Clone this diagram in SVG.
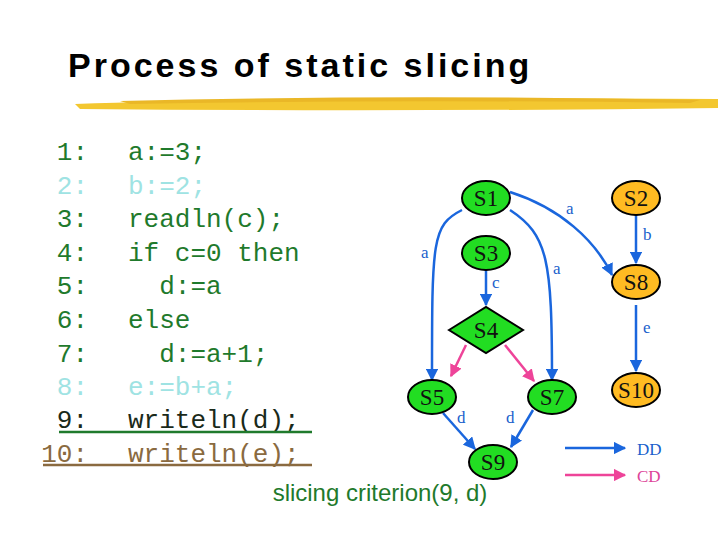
<svg xmlns="http://www.w3.org/2000/svg" width="720" height="540" viewBox="0 0 720 540">
<style>
.code{font-family:"Liberation Mono",monospace;font-size:26px}
.g{fill:#1f7a2c}.c{fill:#9fe3e3}.k{fill:#1a2a1a}.b{fill:#8a6a40}
.gn{fill:#22dd22;stroke:#000;stroke-width:2}
.or{fill:#ffbb22;stroke:#000;stroke-width:2}
.nl{font-family:"Liberation Serif",serif;font-size:23px;fill:#111;text-anchor:middle}
.el{font-family:"Liberation Serif",serif;font-size:17px;fill:#1a5fcc}
.dd{fill:none;stroke:#1a66dd;stroke-width:2.5;marker-end:url(#ab)}
.cd{fill:none;stroke:#ee4499;stroke-width:2.5;marker-end:url(#ap)}
</style>
<defs>
<marker id="ab" viewBox="0 0 10 10" refX="9" refY="5" markerWidth="5" markerHeight="5" orient="auto"><path d="M0,0L10,5L0,10z" fill="#1a66dd"/></marker>
<marker id="ap" viewBox="0 0 10 10" refX="9" refY="5" markerWidth="5" markerHeight="5" orient="auto"><path d="M0,0L10,5L0,10z" fill="#ee4499"/></marker>
</defs>
<rect width="720" height="540" fill="#fff"/>
<text x="68" y="77" font-family="Liberation Sans,Arial,sans-serif" font-weight="bold" font-size="34" letter-spacing="3" fill="#000">Process of static slicing</text>
<g id="brush" fill="#f2c21a" opacity="0.9">
<path d="M75,104 Q300,96 718,99 L718,108 Q400,112 80,109 Z"/>
<path d="M120,101 Q400,94 700,100 L690,103 Q400,99 130,104 Z" fill="#e8b010"/>
</g>
<g id="code" class="code">
<text x="88" y="160" text-anchor="end" class="g">1:</text><text x="128" y="160" class="g">a:=3;</text>
<text x="88" y="194" text-anchor="end" class="c">2:</text><text x="128" y="194" class="c">b:=2;</text>
<text x="88" y="227" text-anchor="end" class="g">3:</text><text x="128" y="227" class="g">readln(c);</text>
<text x="88" y="261" text-anchor="end" class="g">4:</text><text x="128" y="261" class="g">if c=0 then</text>
<text x="88" y="294" text-anchor="end" class="g">5:</text><text x="128" y="294" class="g" xml:space="preserve">  d:=a</text>
<text x="88" y="328" text-anchor="end" class="g">6:</text><text x="128" y="328" class="g">else</text>
<text x="88" y="362" text-anchor="end" class="g">7:</text><text x="128" y="362" class="g" xml:space="preserve">  d:=a+1;</text>
<text x="88" y="395" text-anchor="end" class="c">8:</text><text x="128" y="395" class="c">e:=b+a;</text>
<text x="88" y="428" text-anchor="end" class="k">9:</text><text x="128" y="428" class="k">writeln(d);</text>
<text x="88" y="462" text-anchor="end" class="b">10:</text><text x="128" y="462" class="b">writeln(e);</text>
<line x1="59" y1="432" x2="312" y2="432" stroke="#1f7a2c" stroke-width="2.5"/>
<line x1="43" y1="465" x2="312" y2="465" stroke="#8a6a40" stroke-width="2.5"/>
</g>
<g id="connectors">
<path class="dd" d="M462,210 C432,225 432,240 432,380"/>
<path class="dd" d="M510,210 C548,235 552,260 552,380"/>
<path class="dd" d="M510,192 C560,208 595,240 612,275"/>
<path class="dd" d="M636,215 L636,263"/>
<path class="dd" d="M486,270 L486,305"/>
<path class="cd" d="M466,345 L451,376"/>
<path class="cd" d="M505,345 L534,381"/>
<path class="dd" d="M443,413 L475,449"/>
<path class="dd" d="M533,410 L511,447"/>
<path class="dd" d="M636,305 L636,371"/>
<path class="dd" d="M565,448 L625,448"/>
<path class="cd" d="M565,475 L625,475"/>
<text class="el" x="421" y="258">a</text>
<text class="el" x="566" y="214">a</text>
<text class="el" x="553" y="274">a</text>
<text class="el" x="643" y="240">b</text>
<text class="el" x="492" y="288">c</text>
<text class="el" x="643" y="333">e</text>
<text class="el" x="457" y="423">d</text>
<text class="el" x="506" y="423">d</text>
<text class="el" x="637" y="455">DD</text>
<text class="el" x="637" y="482" style="fill:#dd4499">CD</text>
</g>
<g id="S1"><ellipse class="gn" cx="486" cy="198" rx="24" ry="17"/><text class="nl" x="486" y="206">S1</text></g>
<g id="S2"><ellipse class="or" cx="636" cy="198" rx="24" ry="17"/><text class="nl" x="636" y="206">S2</text></g>
<g id="S3"><ellipse class="gn" cx="486" cy="253" rx="24" ry="17"/><text class="nl" x="486" y="261">S3</text></g>
<g id="S8"><ellipse class="or" cx="636" cy="282" rx="24" ry="17"/><text class="nl" x="636" y="290">S8</text></g>
<g id="S4"><path class="gn" d="M449,330 L486,307 L523,330 L486,353 Z"/><text class="nl" x="486" y="338">S4</text></g>
<g id="S5"><ellipse class="gn" cx="432" cy="397" rx="24" ry="17"/><text class="nl" x="432" y="405">S5</text></g>
<g id="S7"><ellipse class="gn" cx="552" cy="397" rx="24" ry="17"/><text class="nl" x="552" y="405">S7</text></g>
<g id="S10"><ellipse class="or" cx="636" cy="390" rx="24" ry="17"/><text class="nl" x="636" y="398">S10</text></g>
<g id="S9"><ellipse class="gn" cx="493" cy="462" rx="24" ry="17"/><text class="nl" x="493" y="470">S9</text></g>
<text x="380" y="501" text-anchor="middle" font-family="Liberation Sans,Arial,sans-serif" font-size="24" fill="#1f7a2c">slicing criterion(9, d)</text>
</svg>
